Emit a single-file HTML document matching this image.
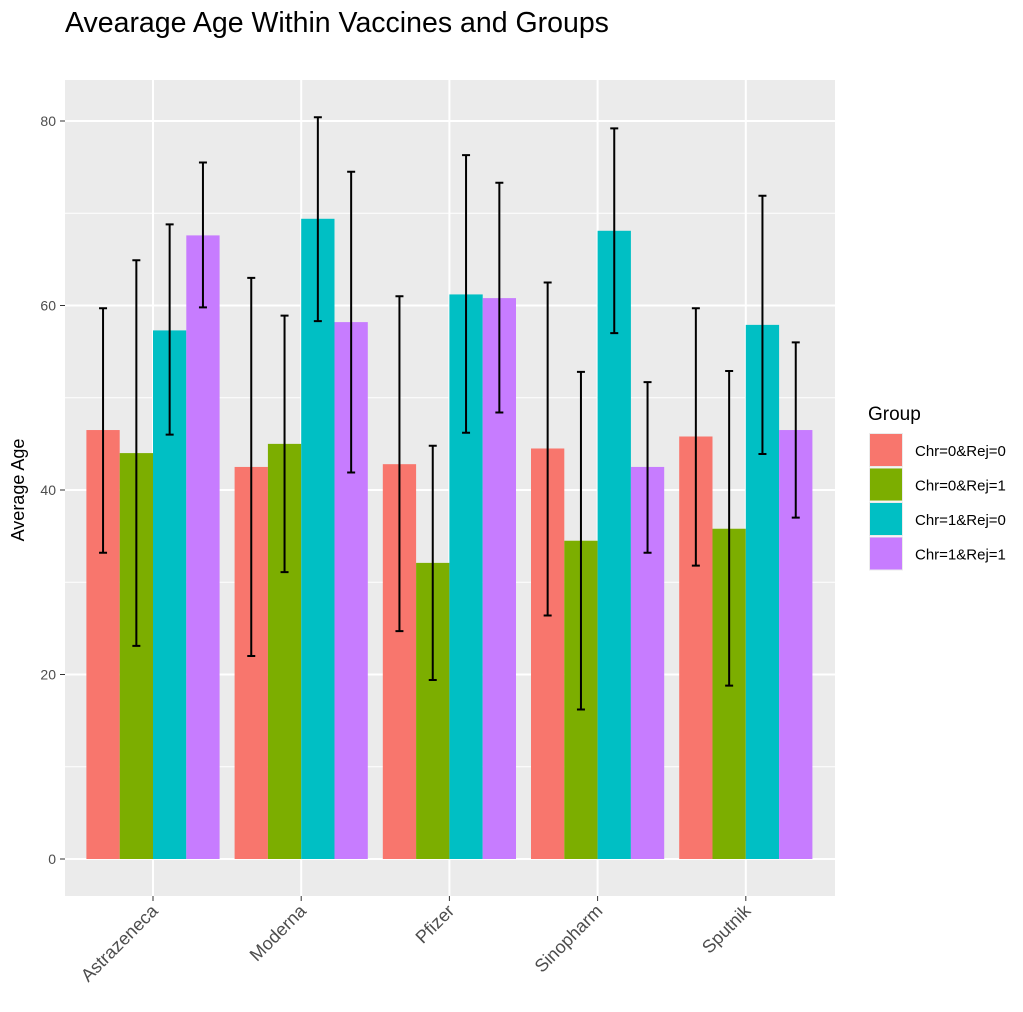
<!DOCTYPE html>
<html><head><meta charset="utf-8"><style>
body{margin:0;background:#fff;font-family:"Liberation Sans",sans-serif;}
</style></head><body>
<svg id="chart" width="1023" height="1007" xmlns="http://www.w3.org/2000/svg">
<text x="65" y="32" font-size="28.5" fill="#000">Avearage Age Within Vaccines and Groups</text>
<rect x="65" y="80" width="770" height="816" fill="#ebebeb"/>
<g id="grid"></g><g id="bars"></g><g id="axes"></g>
<text transform="translate(24,490) rotate(-90)" text-anchor="middle" font-size="18">Average Age</text>
<text x="868" y="420" font-size="19">Group</text>
<g id="legend"></g>
</svg>
<script>
const categories=["Astrazeneca","Moderna","Pfizer","Sinopharm","Sputnik"];
const groups=["Chr=0&Rej=0","Chr=0&Rej=1","Chr=1&Rej=0","Chr=1&Rej=1"];
const colors=["#f8766d","#7cae00","#00bfc4","#c77cff"];
const means=[[46.5,44.0,57.3,67.6],[42.5,45.0,69.4,58.2],[42.8,32.1,61.2,60.8],[44.5,34.5,68.1,42.5],[45.8,35.8,57.9,46.5]];
const lows=[[33.2,23.1,46.0,59.8],[22.0,31.1,58.3,41.9],[24.7,19.4,46.2,48.4],[26.4,16.2,57.0,33.2],[31.8,18.8,43.9,37.0]];
const highs=[[59.7,64.9,68.8,75.5],[63.0,58.9,80.4,74.5],[61.0,44.8,76.3,73.3],[62.5,52.8,79.2,51.7],[59.7,52.9,71.9,56.0]];
const yTicks=[0,20,40,60,80];
const NS="http://www.w3.org/2000/svg";
const y=v=>859-v*9.225;
const xc=i=>153+i*148.2;
const bw=33.3;
function mk(t,a,p){const e=document.createElementNS(NS,t);for(const k in a)e.setAttribute(k,a[k]);p.appendChild(e);return e;}
const grid=document.getElementById('grid'),bars=document.getElementById('bars'),axes=document.getElementById('axes'),leg=document.getElementById('legend');
[10,30,50,70].forEach(v=>{const l=mk('line',{x1:65,x2:835,y1:y(v),y2:y(v),stroke:'#fff','stroke-width':1},grid);

});
yTicks.forEach(v=>{const l=mk('line',{x1:65,x2:835,y1:y(v),y2:y(v),stroke:'#fff','stroke-width':2},grid);


const t=mk('line',{x1:60,x2:65,y1:y(v),y2:y(v),stroke:'#333','stroke-width':1},axes);


const tx=mk('text',{x:56,y:y(v)+5,'text-anchor':'end','font-size':14,fill:'#4d4d4d'},axes);tx.textContent=v;

});
categories.forEach((c,i)=>{const l=mk('line',{x1:xc(i),x2:xc(i),y1:80,y2:896,stroke:'#fff','stroke-width':2},grid);


const t=mk('line',{x1:xc(i),x2:xc(i),y1:896,y2:901,stroke:'#333'},axes);


const tx=mk('text',{transform:`translate(${xc(i)+6},${912}) rotate(-45)`,'text-anchor':'end','font-size':18,fill:'#4d4d4d'},axes);tx.textContent=c;


groups.forEach((g,j)=>{const x0=xc(i)-2*bw+j*bw;
const r=mk('rect',{x:x0,y:y(means[i][j]),width:bw,height:y(0)-y(means[i][j]),fill:colors[j]},bars);


const cx=x0+bw/2;
const eb=mk('path',{d:`M${cx-4},${y(highs[i][j])}H${cx+4}M${cx},${y(highs[i][j])}V${y(lows[i][j])}M${cx-4},${y(lows[i][j])}H${cx+4}`,stroke:'#000','stroke-width':2,fill:'none'},bars);

});});
groups.forEach((g,j)=>{const yy=433+j*34.5;
const bg=mk('rect',{x:869,y:yy,width:34,height:34,fill:'#ebebeb'},leg);


const r=mk('rect',{x:870,y:yy+1,width:32,height:32,fill:colors[j]},leg);


const t=mk('text',{x:915,y:yy+23,'font-size':15},leg);t.textContent=g;

});
</script>
</body></html>
